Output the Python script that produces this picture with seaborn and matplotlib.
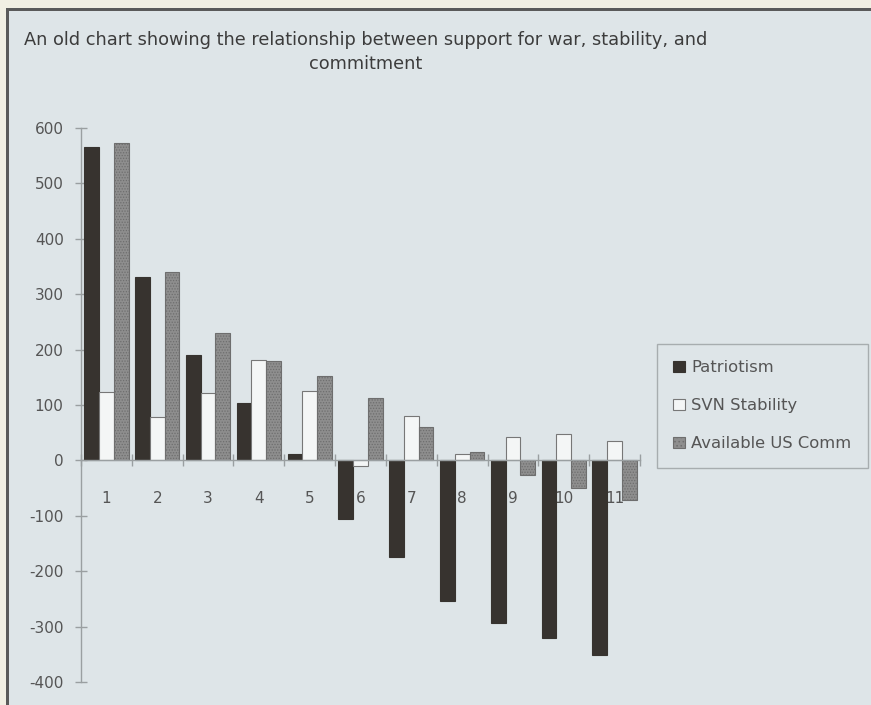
import seaborn as sns
import pandas as pd
import matplotlib.pyplot as plt
from matplotlib.patches import Rectangle

sns.set_theme(style="ticks")
plt.rcParams['font.family'] = ['DejaVu Sans']
plt.rcParams['axes.unicode_minus'] = False
plt.rcParams['hatch.linewidth'] = 0.6

groups = [str(i) for i in range(1, 12)]
series = ["Patriotism", "SVN Stability", "Available US Comm"]
patriotism = [566, 331, 190, 104, 12, -105, -174, -254, -293, -320, -351]
svn_stability = [123, 78, 121, 182, 125, -10, 81, 12, 42, 48, 35]
us_comm = [573, 340, 230, 179, 152, 113, 61, 15, -26, -50, -71]
y_ticks = [-400, -300, -200, -100, 0, 100, 200, 300, 400, 500, 600]

BG = "#dee5e8"
TXT = "#555555"
AX = "#9a9fa1"

def main():
    data = pd.DataFrame({
        "group": groups * 3,
        "series": [series[0]] * 11 + [series[1]] * 11 + [series[2]] * 11,
        "value": patriotism + svn_stability + us_comm,
    })

    fig = plt.figure(figsize=(8.71, 7.05), dpi=100, facecolor=BG)
    # paper edge / frame
    fig.patches.append(Rectangle((0, 1 - 8 / 705), 1, 8 / 705, transform=fig.transFigure,
                                 facecolor="#f1efe3", edgecolor="none", zorder=0))
    fig.patches.append(Rectangle((0, 1 - 11 / 705), 1, 3 / 705, transform=fig.transFigure,
                                 facecolor="#5a5a5a", edgecolor="none", zorder=0))
    fig.patches.append(Rectangle((0, 0), 6 / 871, 1, transform=fig.transFigure,
                                 facecolor="#f1efe3", edgecolor="none", zorder=0))
    fig.patches.append(Rectangle((6 / 871, 0), 3 / 871, 1 - 8 / 705, transform=fig.transFigure,
                                 facecolor="#5a5a5a", edgecolor="none", zorder=0))

    ax = fig.add_axes([81 / 871, 1 - 682 / 705, (640 - 81) / 871, (682 - 128) / 705])
    ax.set_facecolor("none")

    sns.barplot(data=data, x="group", y="value", hue="series", order=groups, hue_order=series,
                palette=["#37332f", "#f4f6f6", "#8e8e8e"], width=0.87, ax=ax,
                errorbar=None, legend=True, saturation=1)

    styles = {
        series[0]: dict(edgecolor="#37332f", hatch=None),
        series[1]: dict(edgecolor="#777777", hatch=None),
        series[2]: dict(edgecolor="#6e6e6e", hatch="......"),
    }
    for cont, name in zip(ax.containers, series):
        for bar in cont:
            bar.set_edgecolor(styles[name]["edgecolor"])
            bar.set_linewidth(0.8)
            if styles[name]["hatch"]:
                bar.set_hatch(styles[name]["hatch"])

    ax.set_xlim(-0.5, 10.5)
    ax.set_ylim(-400, 600)
    ax.set_yticks(y_ticks)
    ax.set_xlabel("")
    ax.set_ylabel("")

    ax.spines["bottom"].set_position(("data", 0))
    ax.spines["top"].set_visible(False)
    ax.spines["right"].set_visible(False)
    for s in ["left", "bottom"]:
        ax.spines[s].set_color(AX)
        ax.spines[s].set_linewidth(1.0)

    ax.set_xticks(range(11))
    ax.set_xticklabels(groups)
    ax.set_xticks([i - 0.5 for i in range(12)], minor=True)
    ax.tick_params(axis="x", which="major", length=0, pad=22, labelsize=11, labelcolor=TXT)
    ax.tick_params(axis="x", which="minor", direction="inout", length=8, color=AX, width=1)
    ax.tick_params(axis="y", direction="inout", length=9, color=AX, width=1,
                   labelsize=11, labelcolor=TXT, pad=8)

    handles, labels = ax.get_legend_handles_labels()
    ax.legend_.remove()
    for h, name in zip(handles, series):
        h.set_edgecolor(styles[name]["edgecolor"])
        h.set_linewidth(0.8)
        if styles[name]["hatch"]:
            h.set_hatch("....")
    leg = fig.legend(handles, labels, loc="upper left",
                     bbox_to_anchor=(657 / 871, 1 - 344 / 705), frameon=True,
                     fontsize=11.8, labelcolor=TXT, handlelength=0.7, handleheight=0.7,
                     handletextpad=0.4, labelspacing=1.4, borderpad=1.0,
                     borderaxespad=0, fancybox=False)
    leg.get_frame().set_facecolor(BG)
    leg.get_frame().set_edgecolor("#9a9fa1")
    leg.get_frame().set_linewidth(1.0)

    fig.text(366 / 871, 1 - 31 / 705,
             "An old chart showing the relationship between support for war, stability, and\ncommitment",
             ha="center", va="top", multialignment="center", fontsize=12.8, color="#3c3c3c",
             linespacing=1.45)

    fig.savefig("out.png", dpi=100, facecolor=BG)

if __name__ == "__main__":
    main()
